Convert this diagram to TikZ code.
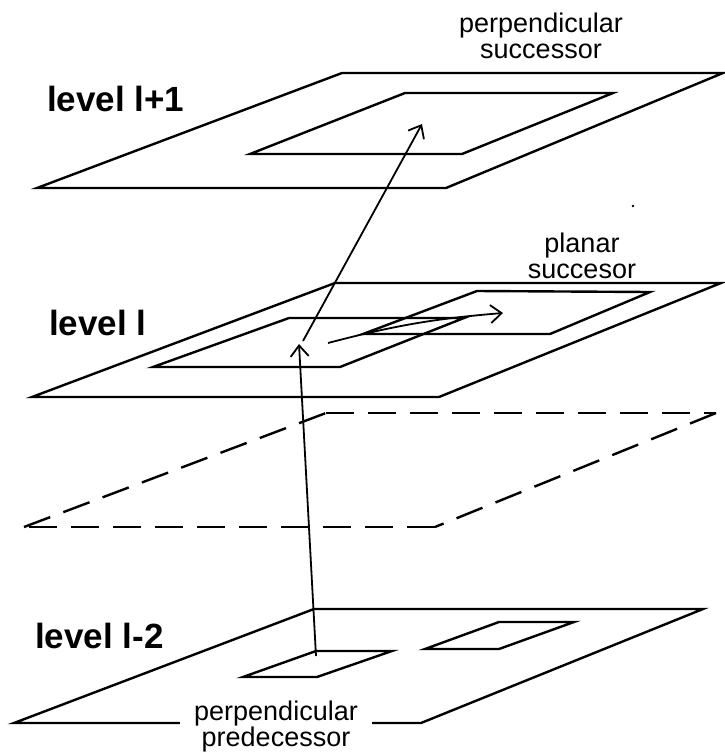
\documentclass[tikz,border=0pt]{standalone}
\usepackage{fontspec}
\setmainfont{Liberation Sans}
\usetikzlibrary{arrows.meta}
\begin{document}
\begin{tikzpicture}[x=1pt,y=-1pt,
  plane/.style={line width=2.4pt},
  hidden/.style={plane,dash pattern=on 28pt off 14pt},
  arr/.style={line width=1.8pt,-{Straight Barb[length=11pt,width=18pt]}},
  lvl/.style={font=\fontsize{35}{35}\selectfont\bfseries,inner sep=0pt,anchor=base west},
  lbl/.style={font=\fontsize{27}{26}\selectfont,align=center,inner sep=0pt}]
\useasboundingbox (0,0) rectangle (725,753);
\coordinate (A1) at (342,73);
\coordinate (A2) at (723,73);
\coordinate (A3) at (446,188);
\coordinate (A4) at (37,188);
\draw[plane] (A1) -- (A2) -- (A3) -- (A4) -- cycle;
\coordinate (a1) at (405,93);
\coordinate (a2) at (613,93);
\coordinate (a3) at (462,154);
\coordinate (a4) at (250,154);
\draw[plane] (a1) -- (a2) -- (a3) -- (a4) -- cycle;
\coordinate (B1) at (335,283);
\coordinate (B2) at (721,283);
\coordinate (B3) at (439,397);
\coordinate (B4) at (32,397);
\draw[plane] (B1) -- (B2) -- (B3) -- (B4) -- cycle;
\coordinate (b1) at (289,318);
\coordinate (b2) at (464,318);
\coordinate (b3) at (340,367);
\coordinate (b4) at (153,367);
\draw[plane] (b1) -- (b2) -- (b3) -- (b4) -- cycle;
\coordinate (c1) at (477,291);
\coordinate (c2) at (650,292);
\coordinate (c3) at (550,334);
\coordinate (c4) at (363,334);
\draw[plane] (c1) -- (c2) -- (c3) -- (c4) -- cycle;
\coordinate (D1) at (326,413);
\coordinate (D2) at (716,413);
\coordinate (D3) at (435,527);
\coordinate (D4) at (24,527);
\foreach \p/\q in {D1/D2,D2/D3,D3/D4,D4/D1}
  \draw[hidden] (\p) -- (\q);
\coordinate (E1) at (314,609);
\coordinate (E2) at (703,609);
\coordinate (E3) at (421,723);
\coordinate (E4) at (14,723);
\draw[plane] (E1) -- (E2) -- (E3) -- (E4) -- cycle;
\coordinate (e1) at (316,651);
\coordinate (e2) at (392,651);
\coordinate (e3) at (317,677);
\coordinate (e4) at (243,677);
\draw[plane] (e1) -- (e2) -- (e3) -- (e4) -- cycle;
\coordinate (f1) at (499,622);
\coordinate (f2) at (574,622);
\coordinate (f3) at (499,649);
\coordinate (f4) at (425,649);
\draw[plane] (f1) -- (f2) -- (f3) -- (f4) -- cycle;
\coordinate (P0) at (316,656);
\coordinate (P1) at (299,344);
\coordinate (P2) at (303,341);
\coordinate (S) at (422,124);
\coordinate (Q0) at (328,343);
\coordinate (Q1) at (503,313);
\draw[arr] (P0) -- (P1);
\draw[arr] (P2) -- (S);
\draw[arr] (Q0) to[bend left=5] (Q1);
\fill (633,206) circle[radius=1.4pt];
\node[lvl] (top) at (47,111) {level l+1};
\node[lvl] (mid) at (49,335) {level l};
\node[lvl] (low) at (35,648) {level l-2};
\node[lbl] (psucc) at (541,36) {perpendicular\\successor};
\node[lbl] (plsucc) at (582,256) {planar\\succesor};
\node[lbl,fill=white,inner xsep=14pt] (ppred) at (276,727) {perpendicular\\predecessor};
\end{tikzpicture}
\end{document}
